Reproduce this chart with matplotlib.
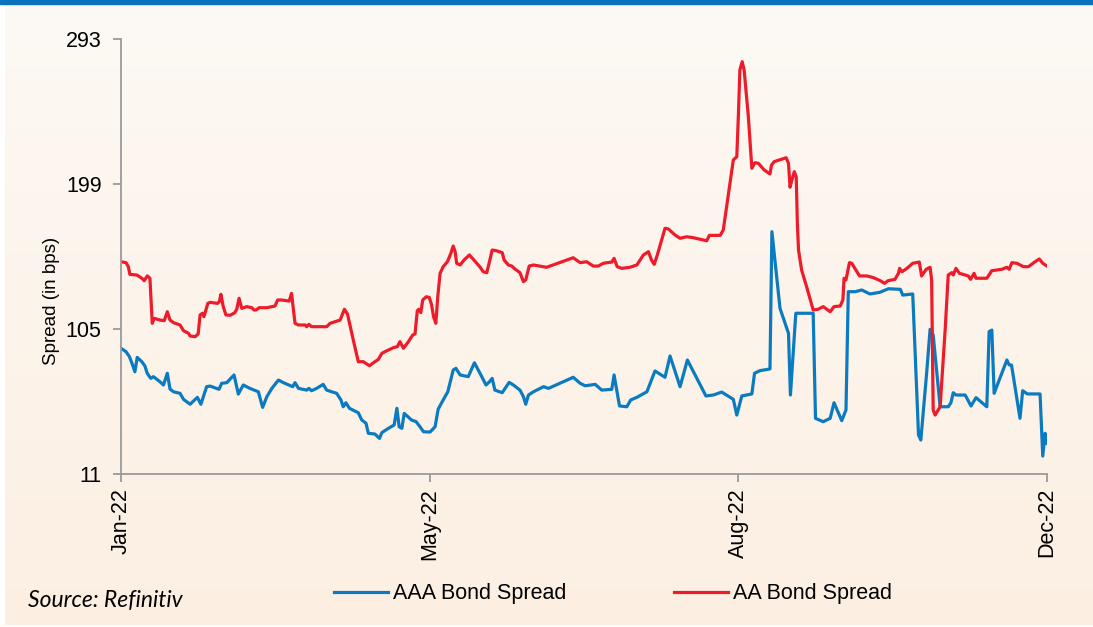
import numpy as np
import matplotlib
matplotlib.use('Agg')
import matplotlib.pyplot as plt
from matplotlib.patches import Rectangle

# trading-day index (ticks every 80 sessions) and spread in bps
aa_x = [0, 1.3, 1.9, 2.3, 4.1, 5.4, 6.0, 6.8, 7.5, 8.1, 8.6, 10.1, 11.2, 12.0, 12.7, 13.6, 15.3, 16.2,
        17.5, 17.9, 19.2, 20.0, 20.5, 21.1, 21.5, 22.5, 23.1, 25.0, 25.5, 25.9, 26.5, 27.2, 28.3, 29.5,
        30.0, 30.6, 31.3, 32.6, 33.9, 34.5, 35.0, 35.8, 37.8, 39.9, 40.6, 41.6, 43.6, 44.2, 45.1, 46.0,
        47.7, 48.1, 48.7, 49.4, 53.3, 54.2, 56.8, 57.9, 58.7, 60.2, 61.5, 62.8, 64.4, 65.4, 66.7, 67.6,
        68.9, 70.6, 71.6, 72.3, 73.2, 74.5, 75.6, 76.2, 76.8, 77.2, 77.7, 78.2, 79.1, 79.9, 80.5, 81.0,
        81.6, 82.1, 82.7, 83.5, 84.6, 85.5, 86.1, 86.6, 87.0, 87.9, 88.9, 90.3, 91.3, 93.1, 93.9, 94.8,
        95.6, 96.2, 97.2, 98.8, 99.3, 100.4, 101.3, 101.9, 103.4, 104.3, 104.9, 105.8, 106.9, 109.5,
        110.3, 117.2, 119.0, 120.7, 122.4, 123.7, 125.0, 127.2, 127.8, 128.6, 129.8, 131.9, 133.7, 135.4,
        136.7, 137.5, 138.2, 139.0, 141.0, 141.9, 143.6, 144.9, 146.6, 148.3, 151.8, 152.5, 155.3, 156.1,
        158.7, 159.6, 160.0, 160.4, 161.0, 161.5, 162.6, 163.5, 164.3, 165.2, 166.7, 168.2, 168.6, 169.3,
        172.4, 173.0, 173.4, 174.0, 174.5, 175.0, 175.3, 175.6, 176.4, 177.7, 179.4, 180.7, 182.0, 183.8,
        184.8, 186.4, 187.1, 187.4, 187.9, 188.8, 189.4, 191.4, 193.3, 195.0, 196.8, 197.9, 198.8, 200.6,
        201.5, 201.8, 202.4, 203.7, 205.2, 206.9, 207.5, 208.7, 209.7, 210.1, 210.5, 211.0, 212.3, 213.6,
        214.4, 215.3, 215.7, 216.4, 217.3, 219.6, 220.2, 221.1, 221.6, 224.4, 225.7, 228.3, 229.6, 230.2,
        230.9, 232.2, 233.9, 235.2, 236.9, 238.0, 238.9, 240.0]
aa_y = [148.6, 148.0, 145.4, 140.4, 140.0, 137.9, 136.3, 139.4, 137.9, 108.7, 111.9, 110.8, 110.4, 116.2,
        110.8, 109.1, 107.6, 103.9, 102.2, 100.5, 100.0, 101.8, 114.1, 115.2, 113.0, 121.6, 122.3, 121.6,
        122.7, 127.5, 119.5, 114.1, 113.9, 115.6, 117.8, 124.9, 118.4, 119.5, 118.8, 117.3, 117.3, 118.8,
        118.8, 119.9, 123.8, 123.8, 123.1, 128.1, 108.7, 107.6, 107.6, 106.5, 108.0, 106.5, 106.5, 108.7,
        110.8, 117.8, 114.7, 97.9, 83.8, 83.8, 81.2, 83.1, 85.3, 89.2, 90.9, 92.9, 93.5, 96.8, 92.5, 96.8,
        101.1, 101.8, 116.9, 117.8, 115.6, 123.8, 125.9, 125.5, 120.6, 113.0, 108.7, 125.9, 141.1, 145.4,
        148.6, 154.1, 158.8, 155.1, 147.6, 146.5, 149.7, 153.0, 150.2, 145.0, 142.1, 141.5, 149.7, 156.2,
        155.8, 154.5, 149.7, 146.5, 145.8, 144.3, 141.5, 135.7, 136.8, 145.8, 146.5, 145.4, 145.0, 151.2,
        148.0, 148.6, 145.8, 145.8, 147.6, 148.4, 150.8, 145.4, 144.3, 145.0, 146.5, 153.0, 155.1, 149.7,
        146.9, 153.0, 170.3, 169.8, 165.9, 163.8, 164.8, 164.2, 162.2, 165.7, 165.7, 169.2, 214.6, 216.7,
        242.6, 272.9, 278.3, 272.9, 242.6, 209.2, 212.8, 212.4, 208.1, 205.5, 211.3, 213.5, 216.0, 212.4,
        196.9, 202.7, 207.0, 203.7, 173.5, 156.2, 143.2, 132.4, 117.3, 117.8, 119.5, 116.2, 119.5, 119.9,
        123.8, 137.9, 136.8, 148.0, 147.6, 139.4, 139.4, 138.3, 136.3, 134.6, 136.3, 137.2, 141.1, 144.3,
        142.1, 144.3, 147.6, 148.4, 139.4, 143.7, 145.0, 136.8, 52.5, 49.2, 54.6, 104.3, 140.0, 141.5,
        140.0, 144.3, 141.1, 139.4, 137.2, 141.1, 137.9, 137.9, 142.8, 143.7, 145.0, 143.7, 148.0, 147.6,
        145.4, 145.4, 148.6, 150.4, 147.6, 145.8]

aaa_x = [0, 1.3, 2.2, 3.0, 3.6, 4.2, 5.4, 6.2, 6.8, 7.7, 8.4, 10.1, 11.0, 12.0, 12.7, 13.6, 15.3, 16.2,
         17.9, 19.8, 20.7, 22.2, 23.1, 25.4, 26.1, 27.4, 29.3, 30.4, 31.7, 33.4, 35.6, 36.7, 37.8, 39.1,
         40.8, 42.1, 44.5, 45.1, 46.0, 48.1, 48.7, 49.4, 50.7, 52.4, 53.3, 54.6, 55.9, 57.0, 57.6, 58.3,
         59.2, 61.5, 62.4, 63.5, 64.1, 65.8, 67.0, 67.6, 69.3, 70.8, 71.5, 72.1, 72.8, 73.4, 75.3, 76.5,
         77.5, 78.4, 80.1, 81.4, 82.2, 83.5, 84.7, 86.1, 86.8, 87.9, 90.0, 91.6, 93.5, 94.6, 95.5, 96.2,
         96.9, 98.8, 100.6, 101.7, 103.4, 104.3, 104.9, 105.6, 106.9, 109.5, 110.8, 117.2, 119.0, 120.3,
         122.9, 124.6, 127.2, 127.8, 129.2, 131.1, 132.1, 133.7, 136.3, 138.4, 141.0, 142.3, 144.9, 146.8,
         151.6, 153.5, 155.7, 158.7, 159.6, 160.9, 163.5, 164.2, 165.6, 168.2, 168.7, 170.8, 173.0, 173.5,
         174.9, 179.4, 180.0, 182.0, 183.8, 184.8, 186.8, 187.9, 188.5, 190.3, 192.0, 194.1, 196.7, 198.9,
         202.0, 202.6, 205.2, 206.7, 207.3, 208.8, 209.7, 210.5, 212.3, 214.4, 215.1, 215.7, 216.4, 218.8,
         220.3, 221.6, 224.4, 225.0, 225.7, 226.3, 229.6, 230.2, 230.8, 233.0, 233.7, 234.9, 238.2, 238.9,
         239.5, 240.0]
aaa_y = [92.5, 90.3, 87.0, 81.7, 77.3, 86.6, 83.8, 81.0, 76.3, 73.0, 74.1, 70.8, 68.7, 76.3, 66.1, 64.3,
         63.3, 59.4, 56.2, 60.7, 56.2, 67.6, 68.0, 65.9, 69.8, 70.2, 75.2, 62.8, 68.7, 66.5, 64.3, 54.2,
         61.1, 66.5, 71.9, 70.2, 67.6, 70.2, 66.5, 65.4, 66.5, 65.0, 66.5, 69.1, 65.4, 64.3, 63.3, 59.0,
         54.6, 57.2, 53.6, 50.7, 46.0, 43.9, 37.4, 36.9, 34.1, 37.8, 40.6, 42.8, 53.6, 41.6, 40.6, 50.3,
         46.0, 44.9, 41.6, 38.4, 38.2, 41.6, 53.0, 59.0, 64.3, 78.4, 79.5, 75.2, 74.1, 83.1, 74.1, 68.7,
         70.8, 73.0, 65.4, 63.7, 70.4, 68.7, 65.4, 61.1, 56.2, 62.2, 64.3, 67.6, 66.5, 73.7, 69.8, 68.2,
         69.1, 65.4, 65.9, 75.2, 55.1, 54.6, 59.0, 60.7, 64.3, 77.8, 73.7, 87.5, 67.6, 84.9, 61.6, 62.2,
         64.1, 59.4, 49.2, 61.6, 62.9, 76.3, 78.0, 79.1, 168.1, 118.4, 102.2, 62.2, 115.2, 115.2, 47.1,
         44.9, 47.1, 57.2, 45.6, 52.5, 129.2, 129.2, 130.3, 127.7, 128.8, 131.1, 130.7, 127.0, 127.7,
         36.3, 33.0, 76.3, 104.8, 101.1, 54.6, 54.6, 57.2, 63.7, 62.2, 62.2, 55.1, 60.5, 54.6, 103.3,
         104.3, 63.3, 84.9, 81.7, 81.7, 47.1, 65.0, 62.9, 62.9, 22.6, 37.4, 30.9]

tick_pos = [0, 80, 160, 240]
tick_labels = ['Jan-22', 'May-22', 'Aug-22', 'Dec-22']
y_ticks = [11, 105, 199, 293]

W, H = 1093, 627
plt.rcParams['font.family'] = ['Liberation Sans', 'DejaVu Sans']
fig = plt.figure(figsize=(W / 100, H / 100), dpi=100, facecolor='white')

# cream gradient panel
bg = fig.add_axes([5 / W, 2 / H, 1088 / W, 621 / H], zorder=-2)
top = np.array([253, 249, 244]) / 255
bot = np.array([252, 239, 226]) / 255
t = np.linspace(0, 1, 256)[:, None]
grad = (top * (1 - t) + bot * t)[:, None, :]
bg.imshow(grad, aspect='auto', extent=[0, 1, 0, 1])
bg.axis('off')
fig.patches.append(Rectangle((0, 1 - 4 / H), 1, 4 / H, transform=fig.transFigure,
                             color='#0a72bd', zorder=5))

ax = fig.add_axes([121 / W, (H - 474) / H, 926 / W, 435 / H])
ax.set_facecolor('none')
ax.plot(aaa_x, aaa_y, color='#0b7bc1', lw=2.3, label='AAA Bond Spread')
ax.plot(aa_x, aa_y, color='#ee1c2a', lw=2.3, label='AA Bond Spread')

ax.set_xlim(0, 240)
ax.set_ylim(11, 293)
ax.set_yticks(y_ticks)
ax.set_xticks(tick_pos)
ax.set_xticklabels(tick_labels, rotation=90)
for s in ['top', 'right']:
    ax.spines[s].set_visible(False)
for s in ['left', 'bottom']:
    ax.spines[s].set_color('#9a9a9a')
    ax.spines[s].set_linewidth(1.3)
ax.tick_params(axis='both', colors='#9a9a9a', labelcolor='black', labelsize=15.5,
               length=6, width=1.3)
ax.tick_params(axis='y', pad=8)
ax.tick_params(axis='x', pad=4)

fig.text(51 / W, (H - 301) / H, 'Spread (in bps)', fontsize=13.5, rotation=90,
         ha='center', va='center')

fig.legend(loc='center', bbox_to_anchor=(613 / W, 33 / H), ncol=2, frameon=False,
           fontsize=15.5, handlelength=2.5, handletextpad=0.25, columnspacing=5.0)
fig.text(28 / W, 27 / H, 'Source: Refinitiv', fontsize=16.5, style='italic',
         family=['Lato', 'DejaVu Sans'], va='center', ha='left')

fig.savefig('out.png', dpi=100, facecolor=fig.get_facecolor())
